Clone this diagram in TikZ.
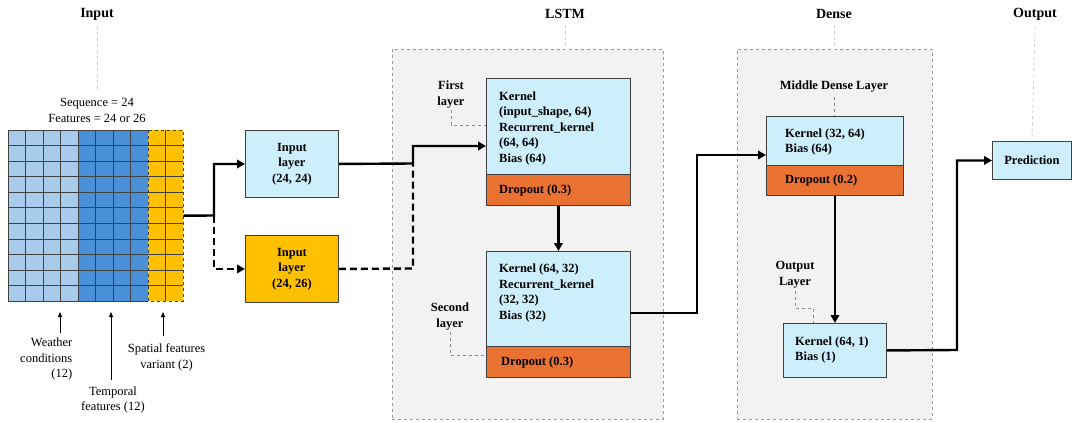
\documentclass[tikz,border=0pt]{standalone}
\usepackage{fontspec}
\setmainfont{Liberation Serif}
\usetikzlibrary{arrows.meta}
\definecolor{boxblue}{HTML}{CDEEFB}
\definecolor{droporange}{HTML}{E97132}
\definecolor{yel}{HTML}{FFC000}
\definecolor{gridlight}{HTML}{A9CBEB}
\definecolor{gridmid}{HTML}{4A90D9}
\definecolor{contfill}{HTML}{F2F2F2}
\definecolor{contdraw}{HTML}{999999}
\definecolor{boxedge}{HTML}{404040}
\begin{document}
\begin{tikzpicture}[x=1pt,y=-1pt,
  txt/.style={font=\fontsize{12.5}{15.5}\selectfont, inner sep=0pt},
  btxt/.style={font=\fontsize{12.5}{15.5}\selectfont\bfseries, inner sep=0pt},
  title/.style={font=\fontsize{14}{16}\selectfont\bfseries, inner sep=0pt},
  box/.style={draw=boxedge, line width=0.9pt, fill=boxblue, anchor=north west, inner sep=0pt},
  dropbox/.style={draw=boxedge, line width=0.9pt, fill=droporange, anchor=north west, inner sep=0pt},
  ybox/.style={draw=boxedge, line width=0.9pt, fill=yel, anchor=north west, inner sep=0pt},
  container/.style={draw=contdraw, dashed, line width=0.8pt, fill=contfill, anchor=north west, inner sep=0pt},
  guide/.style={draw=black!45, dashed, line width=0.6pt},
  tguide/.style={draw=black!20, dashed, line width=0.8pt},
  conn/.style={line width=2.4pt, -{Triangle[length=8pt,width=8.5pt]}},
  dconn/.style={line width=2.4pt, dash pattern=on 7pt off 4pt, -{Triangle[length=8pt,width=8.5pt]}},
  dline/.style={line width=2.4pt, dash pattern=on 7pt off 4pt},
  thinarrow/.style={line width=0.8pt, -{Triangle[length=5pt,width=4pt]}},
  gridl/.style={draw=black!75, line width=0.6pt}
]
\useasboundingbox (0,0) rectangle (1072,423);

% containers
\node[container, minimum width=271, minimum height=370] (lstm) at (392,49) {};
\node[container, minimum width=195, minimum height=370] (dense) at (737,49) {};

% titles
\node[title] (tin) at (97,14) {Input};
\node[title] (tlstm) at (565,14) {LSTM};
\node[title] (tdense) at (834,14) {Dense};
\node[title] (tout) at (1035,14) {Output};
\coordinate (gin) at (97,90);
\draw[tguide] (tin.south) ++(0,6) -- (gin);
\draw[tguide] (tlstm.south) ++(0,6) -- (lstm.north -| tlstm.south);
\draw[tguide] (tdense.south) ++(0,6) -- (dense.north -| tdense.south);

% input grid
\node[txt, align=center] (seq) at (97,110.5) {Sequence = 24\\Features = 24 or 26};
\node[minimum width=175, minimum height=171, anchor=north west, inner sep=0pt] (grid) at (8,130) {};
\fill[gridlight] (8,130) rectangle (78,301);
\fill[gridmid] (78,130) rectangle (148,301);
\fill[yel] (148,130) rectangle (183,301);
\foreach \i in {1,...,10} {
  \draw[gridl] (8,130+\i*15.545) -- (183,130+\i*15.545);
}
\foreach \x in {25.5,43,60.5,78,95.5,113,130.5,165.5} {
  \draw[gridl] (\x,130) -- (\x,301);
}
\draw[gridl] (148,130) -- (8,130) -- (8,301) -- (148,301);
\draw[gridl, dashed] (148,130) rectangle (183,301);

% bottom annotations
\coordinate (a1) at (60,333);
\coordinate (a2) at (111,380);
\coordinate (a3) at (163,336);
\draw[thinarrow] (a1) -- (60,312);
\draw[thinarrow] (a2) -- (111,312);
\draw[thinarrow] (a3) -- (163,312);
\node[txt, align=right, anchor=east] (wc) at (72.5,359) {Weather\\conditions\\(12)};
\node[txt, align=center] (tf) at (113,400) {Temporal\\features (12)};
\node[txt, align=center] (sf) at (166.5,357.5) {Spatial features\\variant (2)};

% input layers
\node[box, minimum width=93, minimum height=67] (in1) at (245,130) {};
\node[btxt, align=center] (in1t) at (in1.center) {Input\\layer\\(24, 24)};
\node[ybox, minimum width=93, minimum height=67] (in2) at (245,235) {};
\node[btxt, align=center] (in2t) at (in2.center) {Input\\layer\\(24, 26)};

% LSTM layers
\node[box, minimum width=144, minimum height=96] (l1) at (486,78) {};
\node[dropbox, minimum width=144, minimum height=31] (d1) at (486,174) {};
\node[btxt, align=left, anchor=west] (l1t) at (499,128) {Kernel\\(input\_shape, 64)\\Recurrent\_kernel\\(64, 64)\\Bias (64)};
\node[btxt, anchor=west] (d1t) at (499,190) {Dropout (0.3)};

\node[box, minimum width=144, minimum height=95] (l2) at (486,251) {};
\node[dropbox, minimum width=144, minimum height=31] (d2) at (486,346) {};
\node[btxt, align=left, anchor=west] (l2t) at (499,293) {Kernel (64, 32)\\Recurrent\_kernel\\(32, 32)\\Bias (32)};
\node[btxt, anchor=west] (d2t) at (501,362) {Dropout (0.3)};

\node[btxt, align=center] (fl) at (451,94.5) {First\\layer};
\node[btxt, align=center] (sl) at (450,316.5) {Second\\layer};
\draw[guide] (fl.south) ++(0,2) |- (486,125);
\draw[guide] (sl.south) ++(0,2) |- (486,355);

% Dense layers
\node[btxt] (mdl) at (834,87) {Middle Dense Layer};
\node[box, minimum width=137, minimum height=49] (m1) at (766,116) {};
\node[dropbox, minimum width=137, minimum height=30] (d3) at (766,165) {};
\node[btxt, align=left, anchor=west] (m1t) at (785,142) {Kernel (32, 64)\\Bias (64)};
\node[btxt, anchor=west] (d3t) at (785,180) {Dropout (0.2)};
\draw[guide] (mdl.south) ++(0,4) -- (m1.north -| mdl.south);

\node[btxt, align=center] (ol) at (795,274.5) {Output\\Layer};
\node[box, minimum width=103, minimum height=54] (o1) at (783,323) {};
\node[btxt, align=left, anchor=west] (o1t) at (795,350) {Kernel (64, 1)\\Bias (1)};
\draw[guide] (ol.south) ++(0,3) -- (795,308) -- (813,308) -- (813,323);

% prediction
\node[box, minimum width=79, minimum height=38] (pred) at (992,141) {};
\node[btxt] (predt) at (pred.center) {Prediction};
\draw[tguide] (tout.south) ++(0,6) -- (pred.north);

% connectors
\coordinate (split) at (214,215.5);
\draw[conn] (grid.east) -- (split) |- (in1.west);
\draw[dconn] (split) |- (in2.west);
\coordinate (l1in) at (486,146);
\draw[conn] (in1.east) -- (413,163.5) |- (l1in);
\draw[dline] (in2.east) -- (413,268.5) -- (413,163.5);
\draw[conn] (d1.south) -- (l2.north);
\coordinate (l2out) at (630,313);
\coordinate (m1in) at (766,155);
\draw[conn] (l2out) -- (697,313) |- (m1in);
\draw[conn] (d3.south) -- (o1.north -| d3.south);
\draw[conn] (o1.east) -- (957,350) |- (pred.west);
\end{tikzpicture}
\end{document}
